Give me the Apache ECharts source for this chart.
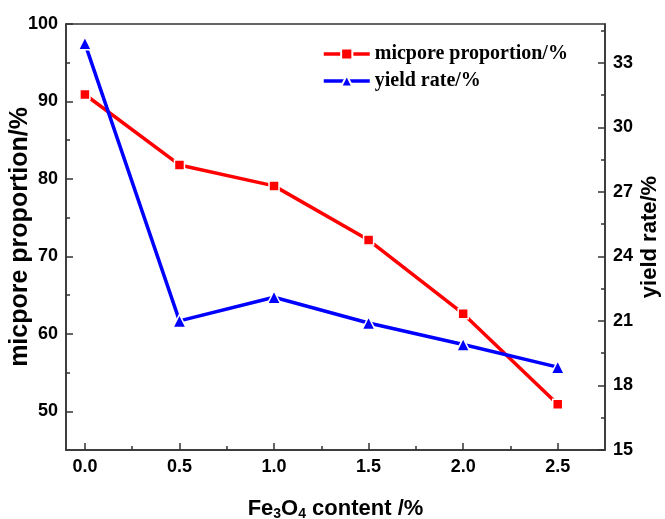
<!DOCTYPE html>
<html>
<head>
<meta charset="utf-8">
<script src="https://cdn.jsdelivr.net/npm/echarts@6/dist/echarts.min.js"></script>
<style>
  html, body { margin: 0; padding: 0; background: #fff; }
  #chart { width: 665px; height: 519px; }
</style>
</head>
<body>
<div id="chart"></div>
<script>
// datos
var contenido = [0.0, 0.5, 1.0, 1.5, 2.0, 2.5];
var microporo = [90.9, 81.8, 79.1, 72.1, 62.6, 50.9];
var rendimiento = [33.9, 21.0, 22.1, 20.9, 19.9, 18.85];

var xTicks = [0, 0.5, 1.0, 1.5, 2.0, 2.5];
var xMinor = [0.25, 0.75, 1.25, 1.75, 2.25];
var yTicks = [50, 60, 70, 80, 90, 100];
var yMinor = [55, 65, 75, 85, 95];
var y2Ticks = [15, 18, 21, 24, 27, 30, 33];
var y2Minor = [16.5, 19.5, 22.5, 25.5, 28.5, 31.5, 34.5];

var ejeColor = '#333';
var fuenteEje = { fontFamily: 'Liberation Sans', fontWeight: 'bold', fontSize: 18, color: '#000' };

function parear(xs, ys) {
  return xs.map(function (x, i) { return [x, ys[i]]; });
}

// eje auxiliar solo para las marcas menores
function ejeMenor(min, max, pos, valores) {
  return {
    type: 'value', min: min, max: max, position: pos,
    axisLine: { show: false, onZero: false },
    axisTick: { show: true, inside: true, length: 4, customValues: valores, lineStyle: { color: ejeColor, width: 1.5 } },
    axisLabel: { show: false },
    splitLine: { show: false }
  };
}

var chart = echarts.init(document.getElementById('chart'), null, { renderer: 'canvas' });

var options = {
  animation: false,
  grid: {
    left: 66, right: 60, top: 24, bottom: 69,
    show: true, borderColor: ejeColor, borderWidth: 1.5,
    containLabel: false, outerBoundsMode: 'none'
  },
  legend: {
    left: 317, top: 39,
    orient: 'vertical',
    itemWidth: 46, itemHeight: 14, itemGap: 7,
    lineStyle: { width: 3.5 },
    textStyle: { fontFamily: 'Liberation Serif', fontWeight: 'bold', fontSize: 20, color: '#000' },
    data: ['micpore proportion/%', 'yield rate/%']
  },
  xAxis: [{
    type: 'value', min: -0.1, max: 2.75,
    name: '{a|Fe}{s|3}{a|O}{s|4}{a| content /%}',
    nameLocation: 'middle', nameGap: 47, nameMoveOverlap: false,
    nameTextStyle: {
      rich: {
        a: { fontFamily: 'Liberation Sans', fontWeight: 'bold', fontSize: 22, color: '#000' },
        s: { fontFamily: 'Liberation Sans', fontWeight: 'bold', fontSize: 14, color: '#000', padding: [10, 0, 0, 0] }
      }
    },
    axisLine: { show: true, onZero: false, lineStyle: { color: ejeColor, width: 1.5 } },
    axisTick: { show: true, inside: true, length: 7, customValues: xTicks, lineStyle: { color: ejeColor, width: 1.5 } },
    axisLabel: Object.assign({ customValues: xTicks, margin: 8, formatter: function (v) { return v.toFixed(1); } }, fuenteEje),
    splitLine: { show: false }
  }, ejeMenor(-0.1, 2.75, 'bottom', xMinor)],
  yAxis: [{
    type: 'value', min: 45, max: 100, position: 'left',
    name: 'micpore proportion/%', nameLocation: 'middle', nameGap: 33, nameRotate: 90, nameMoveOverlap: false,
    nameTextStyle: { fontFamily: 'Liberation Sans', fontWeight: 'bold', fontSize: 25, color: '#000' },
    axisLine: { show: true, onZero: false, lineStyle: { color: ejeColor, width: 1.5 } },
    axisTick: { show: true, inside: true, length: 7, customValues: yTicks, lineStyle: { color: ejeColor, width: 1.5 } },
    axisLabel: Object.assign({ customValues: yTicks, margin: 8 }, fuenteEje),
    splitLine: { show: false }
  }, {
    type: 'value', min: 15, max: 34.8, position: 'right',
    name: 'yield rate/%', nameLocation: 'middle', nameGap: 34, nameRotate: 90, nameMoveOverlap: false,
    nameTextStyle: { fontFamily: 'Liberation Sans', fontWeight: 'bold', fontSize: 22, color: '#000' },
    axisLine: { show: true, onZero: false, lineStyle: { color: ejeColor, width: 1.5 } },
    axisTick: { show: true, inside: true, length: 7, customValues: y2Ticks, lineStyle: { color: ejeColor, width: 1.5 } },
    axisLabel: Object.assign({ customValues: y2Ticks, margin: 8 }, fuenteEje),
    splitLine: { show: false }
  }, ejeMenor(45, 100, 'left', yMinor), ejeMenor(15, 34.8, 'right', y2Minor)],
  series: [{
    name: 'micpore proportion/%',
    type: 'line',
    xAxisIndex: 0, yAxisIndex: 0,
    symbol: 'rect', symbolSize: 10,
    lineStyle: { color: '#ff0000', width: 3.5 },
    itemStyle: { color: '#ff0000', borderColor: '#fff', borderWidth: 1.5 },
    data: parear(contenido, microporo)
  }, {
    name: 'yield rate/%',
    type: 'line',
    xAxisIndex: 0, yAxisIndex: 1,
    symbol: 'triangle', symbolSize: 13,
    lineStyle: { color: '#0000ff', width: 3.5 },
    itemStyle: { color: '#0000ff', borderColor: '#fff', borderWidth: 1.5 },
    data: parear(contenido, rendimiento)
  }]
};

chart.setOption(options);
</script>
</body>
</html>
